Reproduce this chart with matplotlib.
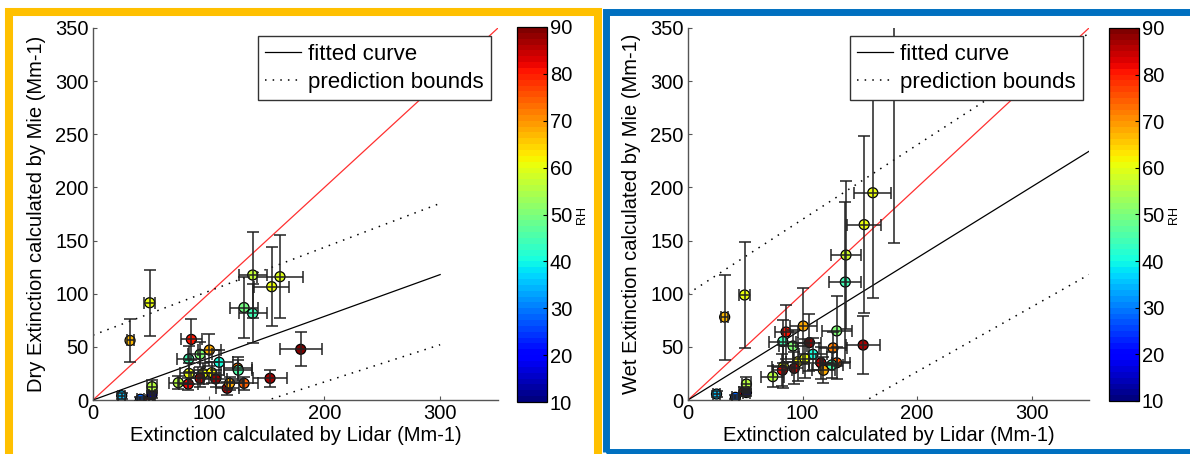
import matplotlib
matplotlib.use("Agg")
import matplotlib.pyplot as plt
import matplotlib.patches as patches
import numpy as np

plt.rcParams['font.family'] = ['Liberation Sans', 'DejaVu Sans']

# ---- data, left panel (dry) ----
dry_x = [24.8, 41, 48.6, 51, 51, 32, 49, 85, 100.6, 92.5, 82.7, 109, 83, 95, 102.6, 73.7, 82.4,
         92.5, 106, 116, 118, 130.5, 125, 125.6, 153, 179.5, 130.5, 138, 138, 154.4, 161.6]
dry_y = [4, 0.7, 0, 5, 12.5, 56, 91.5, 57, 47, 43, 38.6, 35.5, 25, 25, 25.7, 16.3, 15,
         20.4, 19.8, 11, 15.7, 15.7, 30, 28, 20.4, 47.7, 87, 81.5, 117.6, 106.6, 116]
dry_xerr = [3, 3, 3, 3, 4, 3, 5, 9, 10, 10, 10, 12, 8, 8, 8, 8, 8,
            8, 10, 10, 12, 12, 12, 12, 15, 18, 12, 12, 12, 15, 20]
dry_yerr = [3, 2, 2, 3, 6, 20, 31, 19, 15, 12, 12, 12, 10, 10, 10, 6, 6,
            8, 8, 6, 6, 6, 10, 10, 8, 16, 29, 28, 40, 37, 39]
dry_rh = [36, 28, 84, 14, 55, 67, 60, 81, 68, 50, 44, 40, 61, 60, 62, 55, 82,
          85, 88, 86, 68, 74, 72, 45, 87, 90, 49, 44, 57, 60, 59]

# ---- data, right panel (wet) ----
wet_x = [24.9, 41.4, 48.8, 51, 51, 32, 49.4, 85.6, 100.6, 91.6, 82.7, 109, 106, 129.8, 126.6,
         152.9, 83.3, 95.7, 102, 74, 82.4, 92.8, 116, 118.2, 129.8, 125.5, 137.3, 137.9,
         153.8, 161.3, 179.5]
wet_y = [5.6, 2.5, 7.8, 7, 15, 78, 98.8, 64, 69.6, 50.8, 55, 43, 54, 65, 49,
         51.7, 31.4, 36, 39, 22, 28, 29.8, 35, 28, 35, 33, 111, 136.4,
         165, 195, 400]
wet_xerr = [3, 3, 4, 3, 4, 3, 5, 10, 12, 12, 12, 12, 10, 13, 12,
            15, 10, 10, 10, 10, 8, 8, 10, 10, 12, 10, 14, 13,
            15, 16, 15]
wet_yerr = [3, 2, 4, 3, 7, 40, 50, 25, 36, 15, 20, 15, 27, 33, 15,
            27, 20, 18, 18, 10, 15, 15, 15, 12, 15, 12, 75, 70,
            83, 99, 252]
wet_rh = [36, 28, 85, 14, 55, 67, 60, 81, 68, 50, 44, 40, 88, 50, 72,
          87, 61, 62, 60, 55, 82, 85, 86, 68, 74, 45, 44, 58,
          60, 60, 88]

# fitted curve and prediction bounds
dry_fit_x = [0, 300]
dry_fit_y = [0, 118]
dry_up_y = [61, 185]
dry_lo_y = [-53, 52]
wet_fit_x = [0, 350]
wet_fit_y = [0, 234]
wet_up_y = [100, 345]
wet_lo_y = [-95, 118]

W, H = 1190, 454
fig = plt.figure(figsize=(11.9, 4.54), dpi=100)

# panel frames
fig.patches.append(patches.Rectangle((9 / W, 1 - 456 / H), 589 / W, 444 / H, transform=fig.transFigure,
                                     fill=False, edgecolor='#FFC000', linewidth=5.8, zorder=0))
fig.patches.append(patches.Rectangle((606 / W, 1 - 452 / H), 600 / W, 440 / H, transform=fig.transFigure,
                                     fill=False, edgecolor='#0070C0', linewidth=5.0, zorder=0))

cmap = plt.get_cmap('jet', 64)
FS = 14.5


def panel(ax_rect, cb_rect, x, y, xerr, yerr, rh, fx, fy, fu, fl, ylabel, leg_anchor):
    ax = fig.add_axes(ax_rect)
    ax.plot([0, 350], [0, 350], color='#ff3030', lw=0.9, zorder=1)
    l1, = ax.plot(fx, fy, color='black', lw=0.9, zorder=1)
    l2, = ax.plot(fx, fu, color='black', lw=1.1, ls=(0, (1, 4)), zorder=1)
    ax.plot(fx, fl, color='black', lw=1.1, ls=(0, (1, 4)), zorder=1)
    sc = ax.scatter(x, y, c=rh, cmap=cmap, vmin=10, vmax=90, s=52, edgecolors='black',
                    linewidths=0.9, zorder=2)
    ax.errorbar(x, y, xerr=xerr, yerr=yerr, fmt='none', ecolor='#222222', elinewidth=1.1,
                capsize=4.5, capthick=1.1, zorder=3)
    ax.set_xlim(0, 350)
    ax.set_ylim(0, 350)
    ax.set_xticks([0, 100, 200, 300])
    ax.set_yticks(range(0, 351, 50))
    ax.spines['top'].set_visible(False)
    ax.spines['right'].set_visible(False)
    for s in ['left', 'bottom']:
        ax.spines[s].set_color('#555555')
        ax.spines[s].set_linewidth(1.0)
    ax.tick_params(direction='in', length=3, labelsize=FS, colors='#555555', labelcolor='black',
                   pad=3)
    ax.set_xlabel('Extinction calculated by Lidar (Mm-1)', fontsize=FS, labelpad=2)
    ax.set_ylabel(ylabel, fontsize=FS, labelpad=7)
    leg = ax.legend([l1, l2], ['fitted curve', 'prediction bounds'], loc='upper right',
                    bbox_to_anchor=leg_anchor, bbox_transform=ax.transAxes, borderaxespad=0,
                    fontsize=16, fancybox=False, framealpha=1, edgecolor='#333333',
                    handlelength=1.6, handletextpad=0.3, labelspacing=0.3, borderpad=0.35)
    leg.get_frame().set_linewidth(1.0)
    leg.set_zorder(5)
    cax = fig.add_axes(cb_rect)
    cb = fig.colorbar(sc, cax=cax, ticks=range(10, 91, 10))
    cb.outline.set_linewidth(0.9)
    cax.tick_params(direction='in', length=3, labelsize=FS, pad=2)
    cb.set_label('RH', fontsize=9, labelpad=3)
    return ax


panel([93 / W, 1 - 400 / H, 405 / W, 372 / H], [517 / W, 1 - 402 / H, 30 / W, 375 / H],
      dry_x, dry_y, dry_xerr, dry_yerr, dry_rh, dry_fit_x, dry_fit_y, dry_up_y, dry_lo_y,
      'Dry Extinction calculated by Mie (Mm-1)', (0.983, 0.978))
panel([688 / W, 1 - 400 / H, 401 / W, 372 / H], [1109 / W, 1 - 401 / H, 30 / W, 373 / H],
      wet_x, wet_y, wet_xerr, wet_yerr, wet_rh, wet_fit_x, wet_fit_y, wet_up_y, wet_lo_y,
      'Wet Extinction calculated by Mie (Mm-1)', (0.985, 0.978))

fig.savefig('out.png', dpi=100)
